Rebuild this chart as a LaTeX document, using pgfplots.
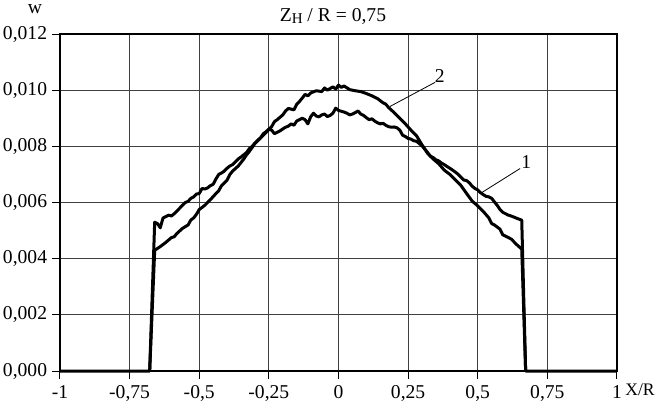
\documentclass[border=0pt]{standalone}
\usepackage{pgfplots}
\pgfplotsset{compat=1.18}
\usepackage{fontspec}
\setmainfont{Liberation Serif}
\begin{document}
\fontsize{9.8}{11.5}\selectfont
\begin{tikzpicture}
\begin{axis}[
  at={(0,0)}, anchor=south west,
  scale only axis, width=278.5pt, height=168.5pt,
  xmin=-1, xmax=1, ymin=0, ymax=0.012,
  xtick={-1,-0.75,-0.5,-0.25,0,0.25,0.5,0.75,1},
  xticklabels={-1,{-0,75},{-0,5},{-0,25},0,{0,25},{0,5},{0,75},1},
  ytick={0,0.002,0.004,0.006,0.008,0.010,0.012},
  yticklabels={{0,000},{0,002},{0,004},{0,006},{0,008},{0,010},{0,012}},
  scaled y ticks=false,
  tick align=outside, major tick length=4pt,
  xtick pos=bottom, ytick pos=left,
  tick style={black, line width=0.5pt},
  grid=major, grid style={black!75, line width=0.45pt},
  axis line style={black, line width=0.8pt},
  ticklabel style={font=\fontsize{9.8}{11.5}\selectfont},
  yticklabel style={xshift=1pt},
  clip=false,
]
\addplot[black, line width=1.5pt, line join=round] coordinates {
(-1,0) (-0.678,0) (-0.66,0.0043)
(-0.64,0.00443) (-0.62,0.00458) (-0.60,0.00475) (-0.59,0.00478) (-0.58,0.00490) (-0.56,0.00508)
(-0.54,0.00520) (-0.53,0.00538) (-0.52,0.00545) (-0.51,0.00558) (-0.50,0.00575) (-0.48,0.00590) (-0.46,0.00610)
(-0.44,0.00632) (-0.43,0.00642) (-0.42,0.00660) (-0.40,0.00680) (-0.39,0.00700) (-0.38,0.00712) (-0.36,0.00730)
(-0.34,0.00755) (-0.33,0.00770) (-0.32,0.00782) (-0.30,0.00810) (-0.28,0.00830) (-0.27,0.00845) (-0.26,0.00852)
(-0.24,0.00870) (-0.23,0.00888) (-0.22,0.00895) (-0.20,0.00912) (-0.19,0.00926) (-0.18,0.00935) (-0.16,0.00930)
(-0.15,0.00950) (-0.14,0.00960) (-0.13,0.00972) (-0.12,0.00985) (-0.11,0.00980) (-0.10,0.00990) (-0.08,0.00998) (-0.06,0.00995)
(-0.05,0.01008) (-0.04,0.01000) (-0.02,0.01012) (-0.01,0.01004) (0.00,0.01018) (0.01,0.01010) (0.02,0.01015)
(0.04,0.01002) (0.06,0.00998) (0.08,0.00995) (0.10,0.00988) (0.12,0.00980)
(0.14,0.00970) (0.16,0.00955) (0.17,0.00950) (0.18,0.00938) (0.20,0.00920) (0.22,0.00900)
(0.24,0.00880) (0.26,0.00858) (0.28,0.00838) (0.30,0.00805) (0.32,0.00775)
(0.34,0.00755) (0.36,0.00738) (0.38,0.00715) (0.40,0.00700) (0.42,0.00680)
(0.44,0.00660) (0.46,0.00632) (0.48,0.00605) (0.50,0.00588) (0.52,0.00568)
(0.54,0.00545) (0.55,0.00525) (0.56,0.00520) (0.58,0.00505) (0.59,0.00485) (0.60,0.00480) (0.62,0.00470)
(0.64,0.00450) (0.658,0.00434) (0.672,0) (1,0)
};
\addplot[black, line width=1.5pt, line join=round] coordinates {
(-0.678,0) (-0.66,0.0053)
(-0.65,0.00525) (-0.64,0.00510) (-0.63,0.00545) (-0.62,0.00550) (-0.61,0.00555) (-0.60,0.00552) (-0.59,0.00560)
(-0.58,0.00570) (-0.57,0.00580) (-0.56,0.00590) (-0.55,0.00600) (-0.54,0.00604) (-0.53,0.00615) (-0.52,0.00620) (-0.51,0.00630) (-0.50,0.00632) (-0.49,0.00650)
(-0.48,0.00648) (-0.47,0.00652) (-0.46,0.00660) (-0.45,0.00665) (-0.44,0.00684) (-0.43,0.00700) (-0.42,0.00705) (-0.41,0.00712) (-0.40,0.00722) (-0.39,0.00730)
(-0.38,0.00735) (-0.37,0.00745) (-0.36,0.00755) (-0.35,0.00762) (-0.34,0.00770) (-0.33,0.00778) (-0.32,0.00792) (-0.31,0.00800) (-0.30,0.00812) (-0.29,0.00822)
(-0.28,0.00830) (-0.27,0.00840) (-0.26,0.00850) (-0.25,0.00860) (-0.24,0.00858) (-0.23,0.00845) (-0.22,0.00850) (-0.21,0.00855) (-0.20,0.00862) (-0.19,0.00868)
(-0.18,0.00872) (-0.17,0.00880) (-0.16,0.00875) (-0.15,0.00890) (-0.14,0.00895) (-0.13,0.00900) (-0.12,0.00895) (-0.11,0.00880) (-0.10,0.00905) (-0.09,0.00918)
(-0.08,0.00908) (-0.07,0.00905) (-0.06,0.00912) (-0.05,0.00915) (-0.04,0.00906) (-0.03,0.00910) (-0.02,0.00918) (-0.01,0.00936) (0.00,0.00928) (0.01,0.00925)
(0.02,0.00922) (0.03,0.00918) (0.04,0.00912) (0.05,0.00915) (0.06,0.00920) (0.07,0.00926) (0.08,0.00915) (0.09,0.00910) (0.10,0.00902) (0.11,0.00895)
(0.12,0.00898) (0.13,0.00890) (0.14,0.00884) (0.15,0.00880) (0.16,0.00882) (0.17,0.00875) (0.18,0.00870) (0.19,0.00868) (0.20,0.00869) (0.21,0.00866)
(0.22,0.00858) (0.23,0.00840) (0.24,0.00835) (0.25,0.00828) (0.26,0.00826) (0.27,0.00820) (0.28,0.00818) (0.29,0.00810) (0.30,0.00802) (0.31,0.00790)
(0.32,0.00778) (0.33,0.00765) (0.34,0.00760) (0.35,0.00752) (0.36,0.00748) (0.37,0.00740) (0.38,0.00735) (0.39,0.00728) (0.40,0.00722) (0.41,0.00715)
(0.42,0.00708) (0.43,0.00700) (0.44,0.00690) (0.45,0.00680) (0.46,0.00678) (0.47,0.00670) (0.48,0.00658) (0.49,0.00650) (0.50,0.00645) (0.51,0.00635)
(0.52,0.00628) (0.53,0.00622) (0.54,0.00620) (0.55,0.00615) (0.56,0.00602) (0.57,0.00590) (0.58,0.00575) (0.59,0.00565) (0.60,0.00560) (0.61,0.00555)
(0.62,0.00552) (0.63,0.00548) (0.645,0.00542) (0.658,0.00537) (0.672,0)
};
\draw[black, line width=0.4pt] (axis cs:0.185,0.00942) -- (axis cs:0.347,0.01028);
\node[anchor=south west, inner sep=0pt] at (axis cs:0.345,0.01025) {2};
\draw[black, line width=0.4pt] (axis cs:0.514,0.00635) -- (axis cs:0.652,0.00721);
\node[anchor=south west, inner sep=0pt] at (axis cs:0.655,0.00718) {1};
\node[anchor=center] at (rel axis cs:0.49,1) [yshift=9pt] {Z\raisebox{-0.25ex}{\fontsize{7.5}{8}\selectfont Н} / R = 0,75};
\node[anchor=center] at (rel axis cs:0,1) [xshift=-12.5pt, yshift=12.5pt] {w};
\node[anchor=west, inner sep=0pt] at (rel axis cs:1,0) [xshift=4pt, yshift=-9.5pt] {\fontsize{8.8}{10}\selectfont X/R};
\end{axis}
\pgfresetboundingbox
\path (-30pt,-16.5pt) rectangle (300.5pt,185.5pt);
\end{tikzpicture}
\end{document}
